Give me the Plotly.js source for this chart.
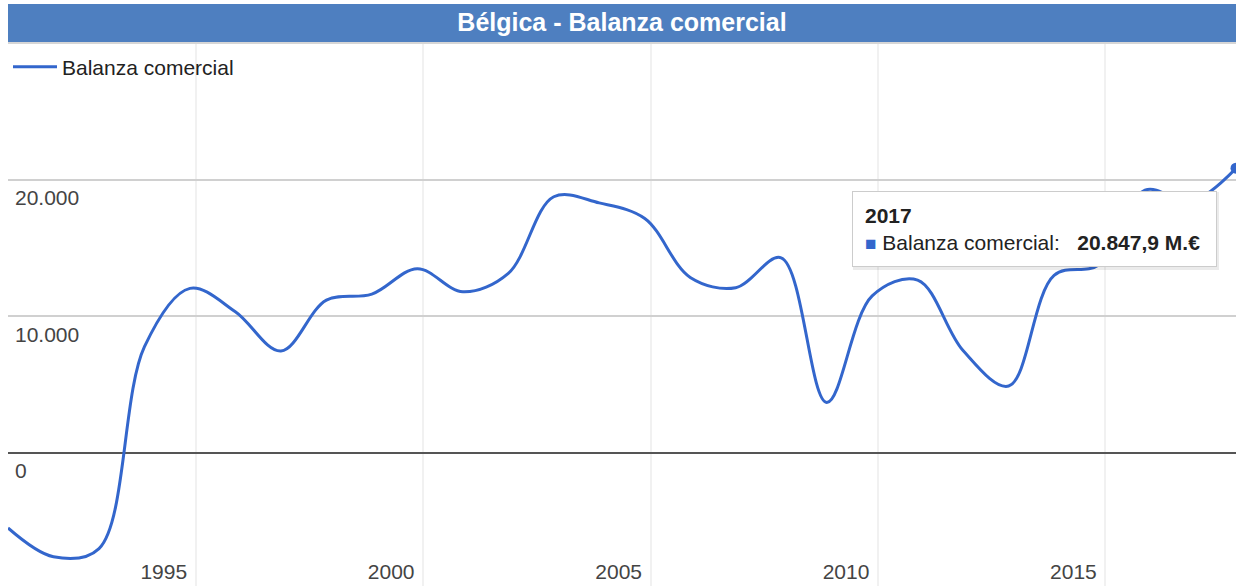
<!DOCTYPE html>
<html>
<head>
<meta charset="utf-8">
<script src="https://cdn.plot.ly/plotly-3.0.1.min.js"></script>
<style>
  html, body { margin: 0; padding: 0; background: #ffffff; }
  #chart { width: 1236px; height: 586px; }
</style>
</head>
<body>
<div id="chart"></div>
<script>
// ---- data (M.€) ----
const years = [1990, 1991, 1992, 1993, 1994, 1995, 1996, 1997, 1998, 1999,
               2000, 2001, 2002, 2003, 2004, 2005, 2006, 2007, 2008, 2009,
               2010, 2011, 2012, 2013, 2014, 2015, 2016, 2017];
const balance = [-5490, -7600, -7000, 7780, 12050, 10340, 7460, 11190, 11630, 13490,
                 11800, 13150, 18760, 18310, 17170, 12850, 12100, 14290, 3700, 11500,
                 12660, 7500, 4900, 13000, 13800, 19240, 18400, 20847.9];
const yTickVals = [0, 10000, 20000];
const yTickText = ['0', '10.000', '20.000'];
const seriesName = 'Balanza comercial';
const chartTitle = 'Bélgica - Balanza comercial';
const unit = 'M.€';

// annual observations stamped late in each year
const dates = years.map(y => y + '-11-15');

function fmtEs(v) {
  const neg = v < 0;
  const parts = Math.abs(v).toFixed(1).split('.');
  const intPart = parts[0].replace(/\B(?=(\d{3})+(?!\d))/g, '.');
  return (neg ? '-' : '') + intPart + ',' + parts[1];
}

const FONT = 'Liberation Sans, Arial, sans-serif';
const BLUE = '#3366cc';
const last = years.length - 1;

const traces = [
  {
    x: dates, y: balance, name: seriesName,
    type: 'scatter', mode: 'lines',
    line: { color: BLUE, width: 3, shape: 'spline', smoothing: 1 },
    hoverinfo: 'skip'
  },
  {
    x: [dates[last]], y: [balance[last]], name: seriesName,
    type: 'scatter', mode: 'markers', showlegend: false,
    marker: { color: BLUE, size: 11 },
    cliponaxis: false, hoverinfo: 'skip'
  }
];

const W = 1236, H = 586, TOP = 42, LEFT = 8;
const plotH = H - TOP, plotW = W - LEFT;
const px = v => (v - LEFT) / plotW;
const py = v => (H - v) / plotH;

const layout = {
  width: W, height: H,
  margin: { l: LEFT, r: 0, t: TOP, b: 0, pad: 0 },
  paper_bgcolor: '#ffffff', plot_bgcolor: '#ffffff',
  separators: ',.',
  font: { family: FONT, size: 21, color: '#444444' },
  title: {
    text: chartTitle,
    font: { family: FONT, size: 25, color: '#ffffff', weight: 'bold' },
    x: 0.5, xref: 'paper', xanchor: 'center',
    y: 1 - 22 / H, yref: 'container', yanchor: 'middle'
  },
  showlegend: true,
  legend: {
    x: 0, xanchor: 'left', y: py(67), yanchor: 'middle',
    bgcolor: 'rgba(0,0,0,0)', borderwidth: 0, itemwidth: 44,
    font: { family: FONT, size: 21, color: '#222222' }
  },
  xaxis: {
    type: 'date',
    range: [dates[0], dates[last]],
    tick0: '1995-01-01', dtick: 'M60', tickformat: '%Y',
    showgrid: true, gridcolor: '#f1f1f1', gridwidth: 2,
    zeroline: false, showline: false, ticks: '',
    ticklabelposition: 'inside', ticklabelshift: -32,
    tickfont: { family: FONT, size: 21, color: '#444444' },
    fixedrange: true
  },
  yaxis: {
    range: [-9740, 30090],
    tickvals: yTickVals, ticktext: yTickText,
    showgrid: true, gridcolor: '#d0d0d0', gridwidth: 2,
    zeroline: true, zerolinecolor: '#555555', zerolinewidth: 2,
    showline: false, ticks: '',
    ticklabelposition: 'inside', ticklabelshift: 18, ticklabelstandoff: 4,
    tickfont: { family: FONT, size: 21, color: '#444444' },
    fixedrange: true
  },
  shapes: [
    // title bar
    { type: 'rect', xref: 'paper', yref: 'paper', x0: 0, x1: 1,
      y0: 1, y1: py(4), fillcolor: '#4e7fc0', line: { width: 0 }, layer: 'above' },
    { type: 'rect', xref: 'paper', yref: 'paper', x0: 0, x1: 1,
      y0: py(44), y1: 1, fillcolor: '#d6d6d6', line: { width: 0 }, layer: 'above' },
    // tooltip shadow
    { type: 'rect', xref: 'paper', yref: 'paper', x0: px(853), x1: px(1219),
      y0: py(270), y1: py(192), fillcolor: 'rgba(0,0,0,0.08)', line: { width: 0 }, layer: 'above' }
  ],
  annotations: [
    {
      xref: 'paper', yref: 'paper',
      x: px(852), y: py(191),
      xanchor: 'left', yanchor: 'top', align: 'left',
      showarrow: false, width: 339,
      bgcolor: '#ffffff', bordercolor: '#cccccc', borderwidth: 1, borderpad: 12,
      font: { family: FONT, size: 21, color: '#222222' },
      text: '<b>' + years[last] + '</b><br>' +
            '<span style="color:' + BLUE + ';font-size:19px">■</span> ' +
            seriesName + ':\u00a0\u00a0\u00a0<b>' + fmtEs(balance[last]) + ' ' + unit + '</b>'
    }
  ]
};

Plotly.newPlot('chart', traces, layout, { displayModeBar: false, staticPlot: true });
</script>
</body>
</html>
